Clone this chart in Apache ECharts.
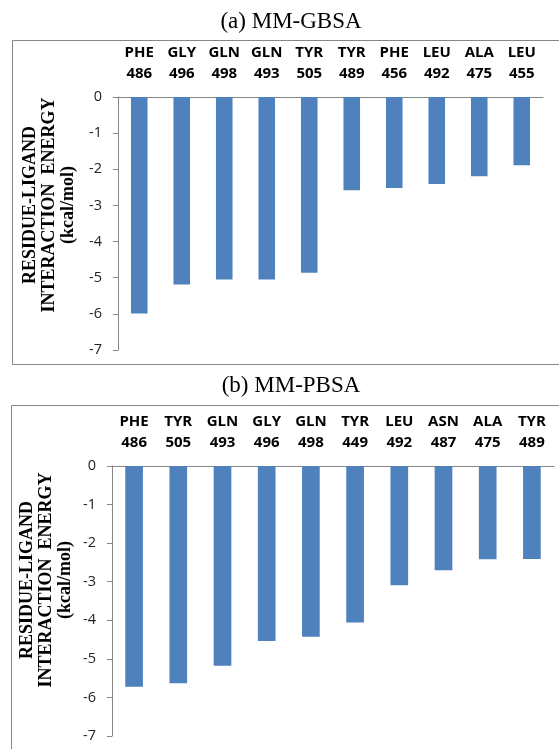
<!DOCTYPE html>
<html>
<head>
<meta charset="utf-8">
<script src="https://cdn.jsdelivr.net/npm/echarts@6/dist/echarts.min.js"></script>
<style>
  html, body { margin: 0; padding: 0; background: #fff; }
  #main { width: 559px; height: 749px; }
</style>
</head>
<body>
<div id="main"></div>
<script>
// (a) MM-GBSA
var gbsaResidues = ["PHE\n486", "GLY\n496", "GLN\n498", "GLN\n493", "TYR\n505", "TYR\n489", "PHE\n456", "LEU\n492", "ALA\n475", "LEU\n455"];
var gbsaEnergy = [-5.99, -5.19, -5.05, -5.05, -4.86, -2.58, -2.52, -2.41, -2.19, -1.89];
// (b) MM-PBSA
var pbsaResidues = ["PHE\n486", "TYR\n505", "GLN\n493", "GLY\n496", "GLN\n498", "TYR\n449", "LEU\n492", "ASN\n487", "ALA\n475", "TYR\n489"];
var pbsaEnergy = [-5.72, -5.63, -5.18, -4.54, -4.43, -4.06, -3.09, -2.70, -2.42, -2.41];

var panelTitles = ["(a) MM-GBSA", "(b) MM-PBSA"];
var yName = "RESIDUE-LIGAND\nINTERACTION  ENERGY\n(kcal/mol)";

var axisGray = "#868686";
var barBlue = "#4F81BD";

function catAxis(idx, data) {
  return {
    type: "category",
    gridIndex: idx,
    position: "top",
    data: data,
    axisLine: { onZero: false, lineStyle: { color: axisGray, width: 1 } },
    axisTick: { inside: true, length: 5, lineStyle: { color: axisGray } },
    axisLabel: {
      interval: 0,
      margin: 13,
      color: "#000",
      fontFamily: "Open Sans",
      fontWeight: "bold",
      fontSize: 15,
      lineHeight: 21
    },
    splitLine: { show: false }
  };
}

function valAxis(idx) {
  return {
    type: "value",
    gridIndex: idx,
    min: -7,
    max: 0,
    interval: 1,
    axisLine: { show: true, lineStyle: { color: axisGray, width: 1 } },
    axisTick: { show: true, length: 5, lineStyle: { color: axisGray } },
    axisLabel: { margin: 16, color: "#222", fontFamily: "Open Sans", fontSize: 14.5 },
    splitLine: { show: false }
  };
}

var chart = echarts.init(document.getElementById("main"), null, { renderer: "canvas" });

var option = {
  backgroundColor: "#fff",
  animation: false,
  grid: [
    { left: 118, right: 16, top: 97, bottom: 399, outerBoundsMode: "none" },
    { left: 112, right: 5, top: 466, bottom: 13, outerBoundsMode: "none" }
  ],
  xAxis: [catAxis(0, gbsaResidues), catAxis(1, pbsaResidues)],
  yAxis: [valAxis(0), valAxis(1)],
  series: [
    {
      type: "bar",
      xAxisIndex: 0,
      yAxisIndex: 0,
      data: gbsaEnergy,
      barWidth: "39%",
      itemStyle: { color: barBlue }
    },
    {
      type: "bar",
      xAxisIndex: 1,
      yAxisIndex: 1,
      data: pbsaEnergy,
      barWidth: "40%",
      itemStyle: { color: barBlue }
    }
  ],
  graphic: [
    // chart area frames
    {
      type: "rect", silent: true, z: -1,
      shape: { x: 12.5, y: 40.5, width: 560, height: 324 },
      style: { fill: null, stroke: axisGray, lineWidth: 1 }
    },
    {
      type: "rect", silent: true, z: -1,
      shape: { x: 11.5, y: 405.5, width: 560, height: 360 },
      style: { fill: null, stroke: axisGray, lineWidth: 1 }
    },
    // panel titles
    {
      type: "text", x: 291, y: 22,
      style: { text: panelTitles[0], font: "23px 'Liberation Serif'", fill: "#000", textAlign: "center", textVerticalAlign: "middle" }
    },
    {
      type: "text", x: 291, y: 386,
      style: { text: panelTitles[1], font: "23px 'Liberation Serif'", fill: "#000", textAlign: "center", textVerticalAlign: "middle" }
    },
    // y axis titles
    {
      type: "text", x: 49, y: 205, rotation: Math.PI / 2,
      style: { text: yName, font: "bold 18px 'Liberation Serif'", lineHeight: 19, fill: "#000", textAlign: "center", textVerticalAlign: "middle" }
    },
    {
      type: "text", x: 46, y: 580, rotation: Math.PI / 2,
      style: { text: yName, font: "bold 18px 'Liberation Serif'", lineHeight: 19, fill: "#000", textAlign: "center", textVerticalAlign: "middle" }
    }
  ]
};

chart.setOption(option);
</script>
</body>
</html>
